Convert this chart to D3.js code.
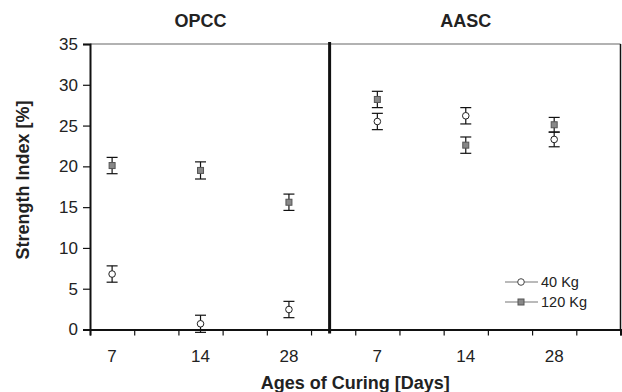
<!DOCTYPE html>
<html><head><meta charset="utf-8">
<script src="https://cdn.jsdelivr.net/npm/d3@7/dist/d3.min.js"></script>
<style>body{margin:0;background:#fff;} text{font-family:"Liberation Sans",Arial,sans-serif;}</style>
</head><body>
<svg id="c" width="622" height="392"></svg>
<script>
// Data
const panels = ["OPCC", "AASC"];
const ages = ["7", "14", "28"];
const series = ["40 Kg", "120 Kg"];
// values per panel, age order 7,14,28
const opcc40 = [6.8, 0.7, 2.45];
const opcc40Err = [1.0, 1.05, 1.0];
const opcc120 = [20.1, 19.5, 15.6];
const opcc120Err = [1.0, 1.05, 1.0];
const aasc40 = [25.5, 26.2, 23.3];
const aasc40Err = [1.0, 1.0, 0.9];
const aasc120 = [28.2, 22.6, 25.1];
const aasc120Err = [1.0, 1.0, 0.9];
const yTicks = [0, 5, 10, 15, 20, 25, 30, 35];
const dividerPos = 5.42;

const svg = d3.select("#c");
const L = 90, R = 620.5, T = 44, B = 329.5;
const x = d3.scaleLinear().domain([0, 12]).range([L, R]);
const y = d3.scaleLinear().domain([0, 35]).range([B, T]);
const font = '"Liberation Sans",Arial,sans-serif';

// frame: top gray, right black
svg.append("line").attr("x1", L).attr("x2", R).attr("y1", T).attr("y2", T).attr("stroke", "#666").attr("stroke-width", 1.2);
svg.append("line").attr("x1", R).attr("x2", R).attr("y1", T).attr("y2", B).attr("stroke", "#111").attr("stroke-width", 1.5);

// y axis
const yAxis = d3.axisLeft(y).tickValues(yTicks).tickSize(7).tickPadding(5).tickFormat(d3.format("d"));
const gy = svg.append("g").attr("transform", `translate(${L},0)`).call(yAxis);
gy.select(".domain").attr("stroke", "#111").attr("stroke-width", 2);
gy.selectAll(".tick line").attr("stroke", "#111").attr("stroke-width", 1.2);
gy.selectAll(".tick text").attr("font-size", 17).attr("font-family", font).attr("fill", "#222");

// x axis ticks (no labels)
const xAxis = d3.axisBottom(x).tickValues(d3.range(0, 13)).tickSize(6).tickFormat("");
const gx = svg.append("g").attr("transform", `translate(0,${B})`).call(xAxis);
gx.select(".domain").attr("stroke", "#111").attr("stroke-width", 2);
gx.selectAll(".tick line").attr("stroke", "#111").attr("stroke-width", 1.2);

// category labels
const catLabels = [];
panels.forEach((p, pi) => ages.forEach((a, ai) => catLabels.push({ label: a, pos: pi * 6 + ai * 2 + 0.5 })));
svg.append("g").selectAll("text").data(catLabels).join("text")
  .attr("x", d => x(d.pos)).attr("y", 362).attr("text-anchor", "middle")
  .attr("font-size", 17).attr("fill", "#222").text(d => d.label);

// panel titles
svg.append("g").selectAll("text").data(panels).join("text")
  .attr("x", (d, i) => x(i * 6 + 2.5)).attr("y", 27).attr("text-anchor", "middle")
  .attr("font-size", 18).attr("font-weight", "bold").attr("fill", "#222").text(d => d);

// divider
svg.append("line").attr("x1", x(dividerPos)).attr("x2", x(dividerPos)).attr("y1", T - 2).attr("y2", B + 4)
  .attr("stroke", "#111").attr("stroke-width", 3);

// axis titles
svg.append("text").attr("x", (L + R) / 2).attr("y", 389).attr("text-anchor", "middle")
  .attr("font-size", 18).attr("font-weight", "bold").attr("fill", "#222").text("Ages of Curing [Days]");
svg.append("text").attr("transform", "translate(29,180) rotate(-90)").attr("text-anchor", "middle")
  .attr("font-size", 18).attr("font-weight", "bold").attr("fill", "#222").text("Strength Index [%]");

// points
function pts(vals, errs, panel) {
  return vals.map((v, i) => ({ pos: panel * 6 + i * 2 + 0.5, v, e: errs[i] }));
}
const s40 = pts(opcc40, opcc40Err, 0).concat(pts(aasc40, aasc40Err, 1));
const s120 = pts(opcc120, opcc120Err, 0).concat(pts(aasc120, aasc120Err, 1));

function errBars(data) {
  const g = svg.append("g").attr("stroke", "#111").attr("stroke-width", 1.2);
  data.forEach(d => {
    const cx = x(d.pos);
    g.append("line").attr("x1", cx).attr("x2", cx).attr("y1", y(d.v + d.e)).attr("y2", y(d.v - d.e));
    g.append("line").attr("x1", cx - 5.5).attr("x2", cx + 5.5).attr("y1", y(d.v + d.e)).attr("y2", y(d.v + d.e));
    g.append("line").attr("x1", cx - 5.5).attr("x2", cx + 5.5).attr("y1", y(d.v - d.e)).attr("y2", y(d.v - d.e));
  });
}
errBars(s40);
errBars(s120);

svg.append("g").selectAll("rect").data(s120).join("rect")
  .attr("x", d => x(d.pos) - 3).attr("y", d => y(d.v) - 3).attr("width", 6).attr("height", 6)
  .attr("fill", "#888").attr("stroke", "#555").attr("stroke-width", 1);
svg.append("g").selectAll("circle").data(s40).join("circle")
  .attr("cx", d => x(d.pos)).attr("cy", d => y(d.v)).attr("r", 3.3)
  .attr("fill", "#fff").attr("stroke", "#222").attr("stroke-width", 1);

// legend
const lg = svg.append("g");
series.forEach((s, i) => {
  const ly = 282 + i * 20;
  lg.append("line").attr("x1", 505).attr("x2", 538).attr("y1", ly).attr("y2", ly).attr("stroke", "#777").attr("stroke-width", 1.2);
  if (i === 0) {
    lg.append("circle").attr("cx", 521).attr("cy", ly).attr("r", 3.3).attr("fill", "#fff").attr("stroke", "#444");
  } else {
    lg.append("rect").attr("x", 518).attr("y", ly - 3).attr("width", 6).attr("height", 6).attr("fill", "#888").attr("stroke", "#555");
  }
  lg.append("text").attr("x", 541).attr("y", ly + 5).attr("font-size", 14.5).attr("fill", "#222").text(s);
});
</script>
</body></html>
